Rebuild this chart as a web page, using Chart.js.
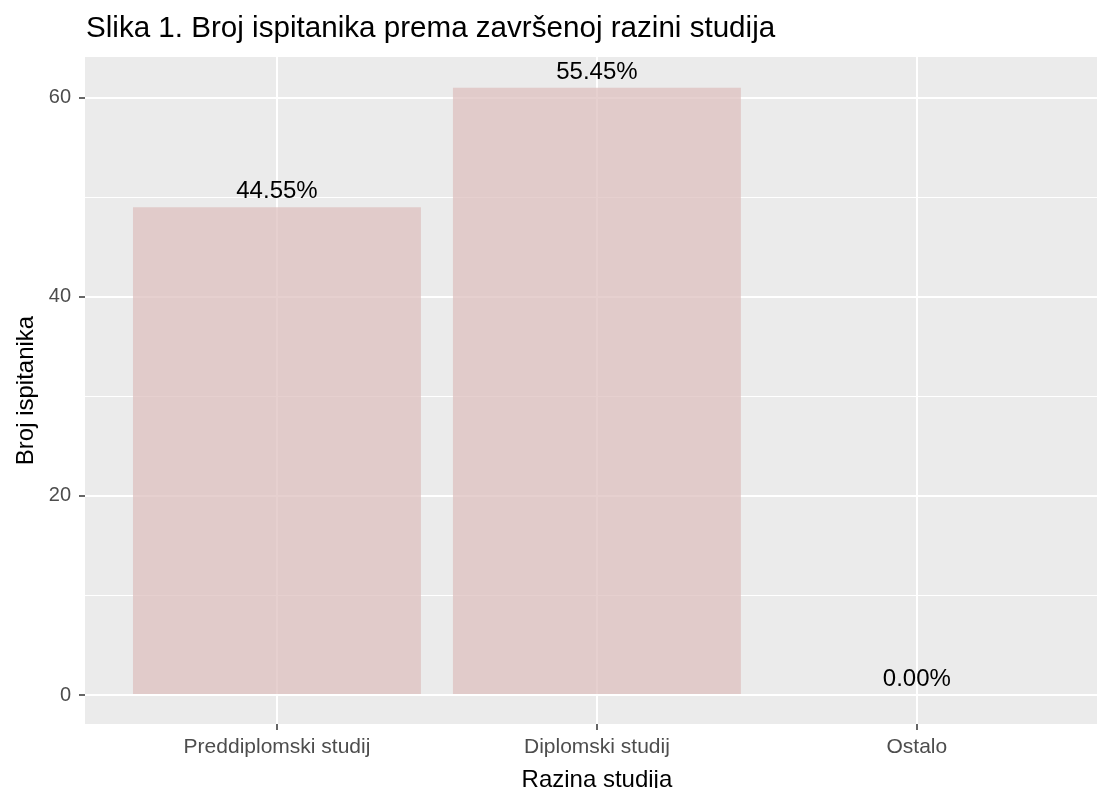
<!DOCTYPE html>
<html>
<head>
<meta charset="utf-8">
<script src="https://cdn.jsdelivr.net/npm/chart.js@4.4.1/dist/chart.umd.min.js"></script>
<style>
  body { margin: 0; background: #fff; }
  canvas { display: block; }
</style>
</head>
<body>
<canvas id="chart" width="1097" height="788"></canvas>
<script>
// data
const categories = ['Preddiplomski studij', 'Diplomski studij', 'Ostalo'];
const counts     = [49, 61, 0];
const pctLabels  = ['44.55%', '55.45%', '0.00%'];
const yTicks     = [0, 10, 20, 30, 40, 50, 60];
const yMajor     = [0, 20, 40, 60];

const FONT = '"Liberation Sans", Arial, sans-serif';
const titleText = 'Slika 1. Broj ispitanika prema završenoj razini studija';
const xTitle = 'Razina studija';
const yTitle = 'Broj ispitanika';

// grey panel behind the grid (ggplot look)
const panelBg = {
    id: 'panelBg',
    beforeDraw(chart) {
        const { ctx, chartArea: a } = chart;
        ctx.save();
        ctx.fillStyle = '#EBEBEB';
        ctx.fillRect(a.left, a.top, a.right - a.left, a.bottom - a.top);
        ctx.restore();
    }
};

// percent labels over the bars, titles
const textLayer = {
    id: 'textLayer',
    afterDatasetsDraw(chart) {
        const { ctx } = chart;
        const meta = chart.getDatasetMeta(0);
        const y = chart.scales.y;
        ctx.save();
        ctx.fillStyle = '#000';
        ctx.font = '24px ' + FONT;
        ctx.textAlign = 'center';
        ctx.textBaseline = 'alphabetic';
        meta.data.forEach((bar, i) => {
            ctx.fillText(pctLabels[i], bar.x, y.getPixelForValue(counts[i]) - 9);
        });
        ctx.restore();
    },
    afterDraw(chart) {
        const { ctx, chartArea: a } = chart;
        const x = chart.scales.x;
        ctx.save();
        ctx.fillStyle = '#000';
        ctx.textBaseline = 'alphabetic';

        ctx.font = '29.6px ' + FONT;
        ctx.textAlign = 'left';
        ctx.fillText(titleText, 86, 37);

        ctx.font = '24px ' + FONT;
        ctx.textAlign = 'center';
        ctx.fillText(xTitle, x.getPixelForValue(1), 787);

        ctx.translate(33, (a.top + a.bottom) / 2);
        ctx.rotate(-Math.PI / 2);
        ctx.fillText(yTitle, 0, 0);
        ctx.restore();
    }
};

new Chart(document.getElementById('chart'), {
    type: 'bar',
    data: {
        datasets: [{
            data: counts.map((v, i) => ({ x: i, y: v })),
            backgroundColor: 'rgba(222, 192, 191, 0.75)',
            borderWidth: 0,
            barPercentage: 0.9,
            categoryPercentage: 1
        }]
    },
    options: {
        responsive: false,
        animation: false,
        layout: { padding: { top: 57, left: 0, right: 0, bottom: 0 } },
        plugins: { legend: { display: false }, tooltip: { enabled: false } },
        scales: {
            x: {
                type: 'linear',
                offset: false,
                min: -0.6,
                max: 2.563,
                afterBuildTicks: s => { s.ticks = categories.map((_, i) => ({ value: i })); },
                afterFit: s => { s.height = 64; },
                border: { display: false },
                grid: {
                    offset: false,
                    color: '#FFFFFF',
                    lineWidth: 2,
                    tickLength: 6,
                    tickColor: '#333333',
                    tickWidth: 1.5
                },
                ticks: {
                    callback: v => categories[v],
                    color: '#4D4D4D',
                    font: { family: FONT, size: 21 },
                    padding: 5,
                    maxRotation: 0,
                    autoSkip: false
                }
            },
            y: {
                min: -2.91,
                max: 64.09,
                afterBuildTicks: s => { s.ticks = yTicks.map(v => ({ value: v })); },
                afterFit: s => { s.width = 85; },
                border: { display: false },
                grid: {
                    color: '#FFFFFF',
                    lineWidth: c => yMajor.includes(c.tick.value) ? 2 : 1,
                    tickLength: 6,
                    tickColor: c => yMajor.includes(c.tick.value) ? '#333333' : 'rgba(0,0,0,0)',
                    tickWidth: 1.5
                },
                ticks: {
                    callback: v => yMajor.includes(v) ? String(v) : '',
                    color: '#4D4D4D',
                    font: { family: FONT, size: 20 },
                    padding: 8,
                    autoSkip: false
                }
            }
        }
    },
    plugins: [panelBg, textLayer]
});
</script>
</body>
</html>
